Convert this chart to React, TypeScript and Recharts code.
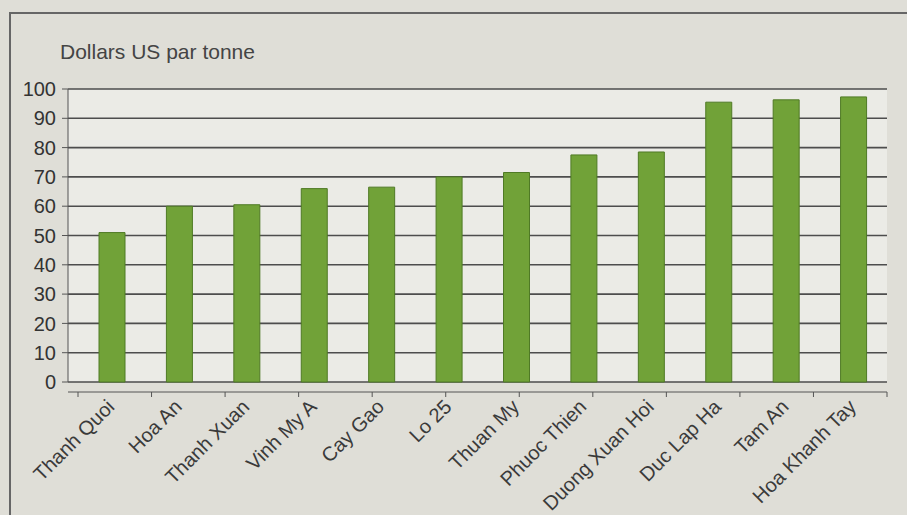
import React from 'react';
import { BarChart, Bar, XAxis, YAxis, CartesianGrid } from 'recharts';

const communes = [
  'Thanh Quoi', 'Hoa An', 'Thanh Xuan', 'Vinh My A', 'Cay Gao', 'Lo 25',
  'Thuan My', 'Phuoc Thien', 'Duong Xuan Hoi', 'Duc Lap Ha', 'Tam An', 'Hoa Khanh Tay',
];
const prices = [51, 60, 60.5, 66, 66.5, 70, 71.5, 77.5, 78.5, 95.5, 96.3, 97.3];
const yTicks = [0, 10, 20, 30, 40, 50, 60, 70, 80, 90, 100];
const boundaryTicks = [0, 1, 2, 3, 4, 5, 6, 7, 8, 9, 10, 11, 12];

const FONT = '"Liberation Sans", Arial, sans-serif';

const CategoryTick = ({ x, y, payload }: any) => {
  const ax = x + 4;
  const ay = y + 10;
  return (
    <text
      x={ax}
      y={ay}
      transform={`rotate(-45 ${ax} ${ay})`}
      textAnchor="end"
      fontSize={20}
      fill="#3a3a3a"
      fontFamily={FONT}
    >
      {payload.value}
    </text>
  );
};

const App: React.FC = () => {
  const data = communes.map((name, i) => ({ name, price: prices[i] }));

  return (
    <div style={{ position: 'fixed', left: 0, top: 0, width: 907, height: 515, background: '#dfded7', overflow: 'hidden', fontFamily: FONT }}>
      <div
        style={{
          position: 'absolute', left: 9, top: 12, width: 920, height: 520,
          borderLeft: '2px solid #666', borderTop: '2px solid #666',
        }}
      />
      <div style={{ position: 'absolute', left: 60, top: 40, fontSize: 21, color: '#444' }}>
        Dollars US par tonne
      </div>
      <div style={{ position: 'absolute', left: 0, top: 0 }}>
        <BarChart width={907} height={515} data={data} margin={{ top: 89, right: 20, bottom: 0, left: 0 }}>
          <CartesianGrid vertical={false} stroke="#4d4d4d" strokeWidth={1.6} fill="#ebebe6" />
          <XAxis xAxisId="a" type="number" domain={[0, 12]} axisLine={false} tickLine={false} tick={false} height={10} />
          <XAxis
            xAxisId="b"
            type="number"
            domain={[0, 12]}
            ticks={boundaryTicks}
            interval={0}
            padding={{ left: 10, right: 0 }}
            tickFormatter={() => ''}
            tickSize={5}
            tickMargin={0}
            height={6}
            stroke="#555"
          />
          <XAxis
            xAxisId="c"
            dataKey="name"
            interval={0}
            padding={{ left: 10, right: 0 }}
            axisLine={false}
            tickLine={false}
            tickSize={0}
            tickMargin={0}
            tick={<CategoryTick />}
            height={117}
          />
          <YAxis
            domain={[0, 100]}
            ticks={yTicks}
            width={68}
            tickSize={6}
            tickMargin={6}
            stroke="#555"
            tick={{ fontSize: 20, fill: '#333', fontFamily: FONT }}
          />
          <Bar
            xAxisId="c"
            dataKey="price"
            barSize={26}
            fill="#71a238"
            stroke="#4f7a25"
            strokeWidth={1}
            isAnimationActive={false}
          />
        </BarChart>
      </div>
    </div>
  );
};

export default App;
